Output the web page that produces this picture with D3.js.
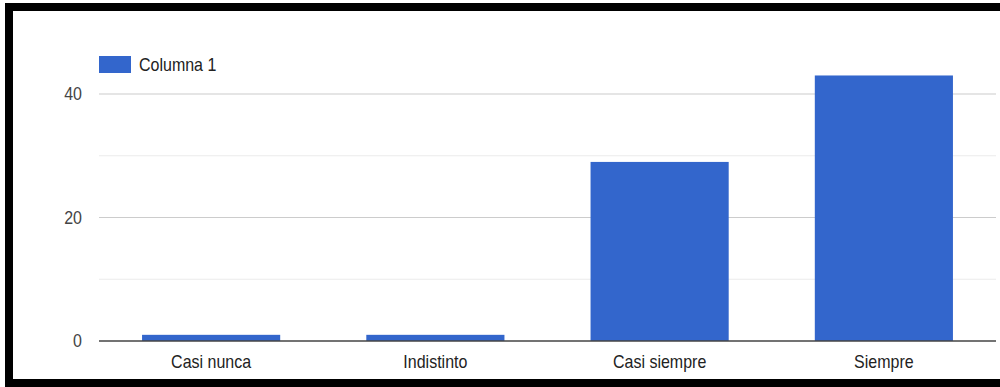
<!DOCTYPE html>
<html>
<head>
<meta charset="utf-8">
<script src="https://cdn.jsdelivr.net/npm/d3@7"></script>
<style>
  html, body { margin: 0; padding: 0; background: #fff; }
  svg { display: block; }
  text { font-family: "Liberation Sans", Arial, sans-serif; }
</style>
</head>
<body>
<svg id="chart" width="1000" height="387"></svg>
<script>
// Survey answers and counts
const categories = ["Casi nunca", "Indistinto", "Casi siempre", "Siempre"];
const values = [1, 1, 29, 43];
const seriesName = "Columna 1";
const yTicks = [0, 20, 40];
const yMinorTicks = [10, 30];

const W = 1000, H = 387;
const plot = { left: 99, right: 996, top: 30, bottom: 341 };
const barColor = "#3366cc";
const textScaleY = 1.15;

const svg = d3.select("#chart");

// Frame around the chart
svg.append("rect").attr("x", 0).attr("y", 0).attr("width", W).attr("height", H).attr("fill", "#fff");
svg.append("rect").attr("x", 5).attr("y", 3).attr("width", W - 5).attr("height", 8).attr("fill", "#000");
svg.append("rect").attr("x", 5).attr("y", 379).attr("width", W - 5).attr("height", 8).attr("fill", "#000");
svg.append("rect").attr("x", 5).attr("y", 3).attr("width", 8).attr("height", H - 3).attr("fill", "#000");

const x = d3.scaleBand()
  .domain(categories)
  .range([plot.left, plot.right])
  .paddingInner(0.384)
  .paddingOuter(0.192);

// 61.75 px per 10 units
const y = d3.scaleLinear()
  .domain([0, 40])
  .range([plot.bottom, plot.bottom - 247]);

// Minor gridlines
svg.append("g").selectAll("line").data(yMinorTicks).join("line")
  .attr("x1", plot.left).attr("x2", plot.right)
  .attr("y1", d => y(d)).attr("y2", d => y(d))
  .attr("stroke", "#ebebeb").attr("stroke-width", 1.2);

// Major gridlines
svg.append("g").selectAll("line").data(yTicks.filter(d => d !== 0)).join("line")
  .attr("x1", plot.left).attr("x2", plot.right)
  .attr("y1", d => y(d)).attr("y2", d => y(d))
  .attr("stroke", "#cccccc").attr("stroke-width", 1.2);

// Y axis labels
const yAxis = d3.axisLeft(y).tickValues(yTicks).tickSize(0).tickPadding(0);
const gy = svg.append("g").attr("transform", `translate(${82},0)`).call(yAxis);
gy.select(".domain").remove();
gy.selectAll(".tick text")
  .attr("fill", "#444")
  .attr("font-size", 16)
  .attr("dy", null)
  .attr("dominant-baseline", "central")
  .attr("transform", `scale(1,${textScaleY})`)
  .attr("y", 0);
gy.selectAll(".tick").each(function(d) {
  const t = d3.select(this);
  t.attr("transform", `translate(0,${y(d)})`);
});

// Bars
svg.append("g").selectAll("rect").data(values).join("rect")
  .attr("x", (d, i) => x(categories[i]))
  .attr("width", x.bandwidth())
  .attr("y", d => y(d))
  .attr("height", d => y(0) - y(d))
  .attr("fill", barColor);

// Baseline
svg.append("line")
  .attr("x1", plot.left).attr("x2", plot.right)
  .attr("y1", y(0)).attr("y2", y(0))
  .attr("stroke", "#444").attr("stroke-width", 1.5);

// X axis labels
const xAxis = d3.axisBottom(x).tickSize(0).tickPadding(0);
const gx = svg.append("g").attr("transform", `translate(0,${362})`).call(xAxis);
gx.select(".domain").remove();
gx.selectAll(".tick text")
  .attr("fill", "#222")
  .attr("font-size", 16)
  .attr("dy", null)
  .attr("y", 0)
  .attr("dominant-baseline", "central")
  .attr("transform", `scale(1,${textScaleY})`);

// Legend
const legend = svg.append("g").attr("transform", "translate(99,64.5)");
legend.append("rect").attr("x", 0).attr("y", -8.5).attr("width", 32).attr("height", 17).attr("fill", barColor);
legend.append("text")
  .attr("x", 40).attr("y", 0)
  .attr("font-size", 16)
  .attr("fill", "#222")
  .attr("dominant-baseline", "central")
  .attr("transform", `scale(1,${textScaleY})`)
  .text(seriesName);
</script>
</body>
</html>
